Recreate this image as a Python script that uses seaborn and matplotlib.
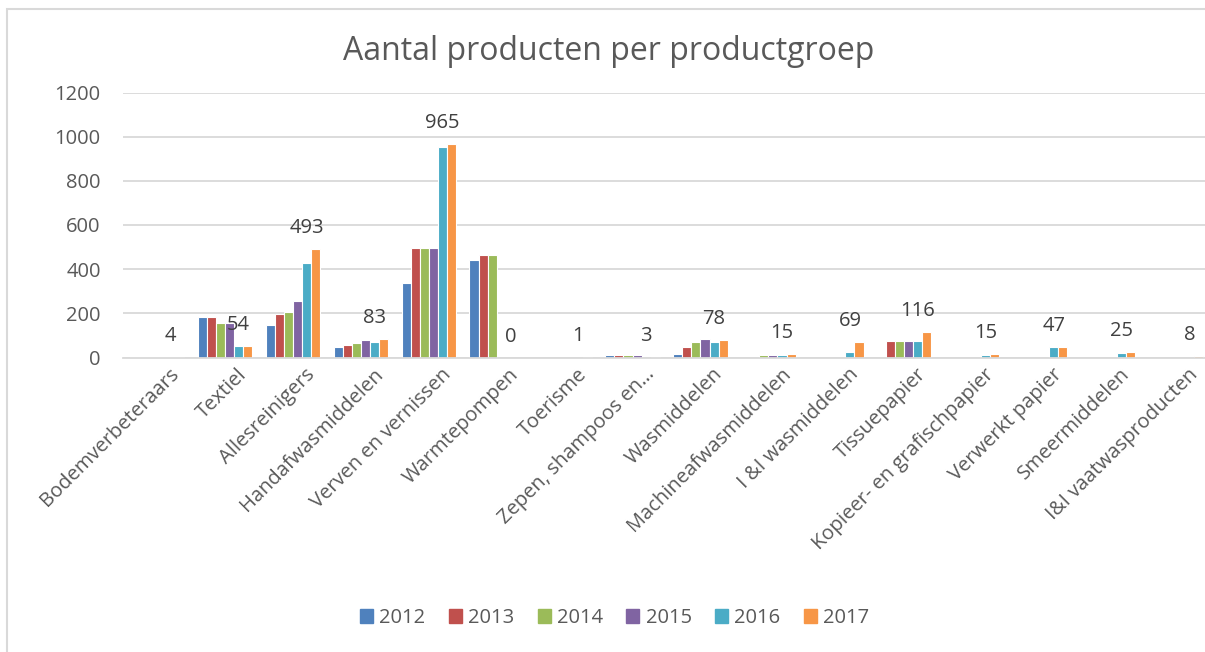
import pandas as pd
import matplotlib.pyplot as plt
import matplotlib.transforms as mtransforms
from matplotlib.patches import Rectangle
import seaborn as sns

# Product groups and number of products per year
categories = ["Bodemverbeteraars", "Textiel", "Allesreinigers", "Handafwasmiddelen",
              "Verven en vernissen", "Warmtepompen", "Toerisme", "Zepen, shampoos en…",
              "Wasmiddelen", "Machineafwasmiddelen", "I &I wasmiddelen", "Tissuepapier",
              "Kopieer- en grafischpapier", "Verwerkt papier", "Smeermiddelen",
              "I&I vaatwasproducten"]
years = ["2012", "2013", "2014", "2015", "2016", "2017"]

v2012 = [4, 184, 145, 47, 337, 441, 0, 10, 14, 0, 0, 0, 0, 0, 0, 0]
v2013 = [4, 184, 195, 57, 495, 465, 0, 10, 46, 0, 0, 75, 0, 0, 0, 0]
v2014 = [4, 157, 205, 65, 495, 465, 0, 10, 72, 12, 0, 75, 0, 0, 0, 0]
v2015 = [4, 157, 255, 77, 495, 0, 0, 13, 82, 12, 0, 75, 0, 0, 0, 0]
v2016 = [4, 54, 426, 72, 955, 0, 0, 0, 72, 12, 27, 75, 13, 46, 20, 0]
v2017 = [4, 54, 493, 83, 965, 0, 1, 3, 78, 15, 69, 116, 15, 47, 25, 8]

colors = ["#4F81BD", "#C0504D", "#9BBB59", "#8064A2", "#4BACC6", "#F79646"]

# long-form table for seaborn
series = [v2012, v2013, v2014, v2015, v2016, v2017]
rows = []
for year, vals in zip(years, series):
    for cat, v in zip(categories, vals):
        rows.append({"groep": cat, "jaar": year, "aantal": v})
df = pd.DataFrame(rows)

sns.set_style("white")
plt.rcParams['font.family'] = ['Open Sans', 'DejaVu Sans']
grey = "#595959"

fig = plt.figure(figsize=(12.05, 6.52), dpi=100)
ax = fig.add_axes([123 / 1205, 1 - 357.5 / 652, 1087 / 1205, 265 / 652])

sns.barplot(data=df, x="groep", y="aantal", hue="jaar", palette=colors,
            order=categories, hue_order=years, width=0.8, saturation=1,
            edgecolor="white", linewidth=0.8, ax=ax)

ax.set_ylim(0, 1200)
ax.set_yticks(range(0, 1201, 200))
ax.yaxis.grid(True, color="#D9D9D9", linewidth=1.3)
ax.set_axisbelow(True)
for side in ["top", "right", "left"]:
    ax.spines[side].set_visible(False)
ax.spines["bottom"].set_color("#D9D9D9")
ax.spines["bottom"].set_linewidth(1.3)
ax.tick_params(axis="both", length=0, labelsize=14.5, colors=grey)
ax.tick_params(axis="y", pad=16)
ax.set_xlabel("")
ax.set_ylabel("")

# rotated category labels, shifted a bit like Excel does
shift = mtransforms.ScaledTranslation(12 / 100, -2 / 100, fig.dpi_scale_trans)
for lab in ax.get_xticklabels():
    lab.set_rotation(45)
    lab.set_ha("right")
    lab.set_rotation_mode("anchor")
    lab.set_transform(lab.get_transform() + shift)

# data labels on the 2017 series only
for bar, v in zip(ax.containers[-1], v2017):
    ax.annotate(str(v), (bar.get_x() + bar.get_width() / 2, bar.get_height()),
                xytext=(-9, 16), textcoords="offset pixels",
                ha="center", va="baseline", fontsize=14.5, color="#404040")

ax.get_legend().remove()
handles = [Rectangle((0, 0), 1, 1, color=c) for c in colors]
fig.legend(handles, years, loc="center", bbox_to_anchor=(0.510, 1 - 618 / 652),
           ncol=6, frameon=False, fontsize=14.5, labelcolor=grey,
           handlelength=0.65, handleheight=0.65, handletextpad=0.3,
           columnspacing=1.17)

fig.text(0.505, 1 - 52 / 652, "Aantal producten per productgroep",
         ha="center", va="center", fontsize=23, color=grey)

# chart area border
fig.add_artist(Rectangle((7 / 1205, -0.1), 1.1, 1.1 - 9 / 652,
                         transform=fig.transFigure, fill=False,
                         edgecolor="#D9D9D9", linewidth=1.5))

plt.savefig("out.png", dpi=100)
